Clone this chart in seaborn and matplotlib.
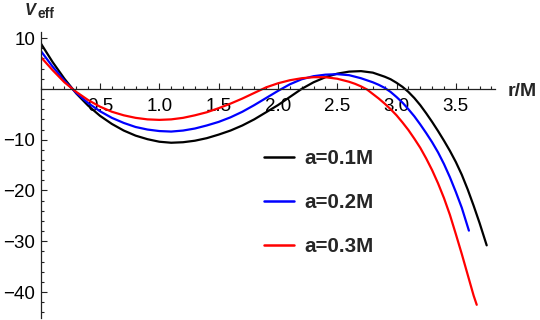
import matplotlib
matplotlib.use("Agg")
import matplotlib.pyplot as plt
import pandas as pd
import seaborn as sns
from matplotlib.ticker import FixedLocator, MultipleLocator, FixedFormatter

# ---- data ----
r_a01 = [0.0, 0.1, 0.2, 0.3, 0.4, 0.5, 0.6, 0.7, 0.8, 0.9, 1.0, 1.1, 1.2, 1.3, 1.4, 1.5,
         1.6, 1.7, 1.8, 1.9, 2.0, 2.1, 2.2, 2.3, 2.4, 2.5, 2.6, 2.7, 2.8, 2.9, 2.95, 3.0,
         3.05, 3.1, 3.15, 3.2, 3.25, 3.3, 3.35, 3.4, 3.45, 3.5, 3.55, 3.6, 3.65, 3.7, 3.76]
V_a01 = [9.0, 5.3, 2.0, -0.9, -3.3, -5.3, -6.9, -8.2, -9.2, -9.9, -10.4, -10.6, -10.5, -10.2,
         -9.7, -9.0, -8.2, -7.2, -6.0, -4.6, -3.2, -1.6, 0.0, 1.3, 2.3, 3.0, 3.4, 3.5, 3.2,
         2.4, 1.9, 1.2, 0.4, -0.6, -1.8, -3.2, -4.8, -6.5, -8.3, -10.2, -12.2, -14.4, -16.9,
         -19.8, -23.0, -26.4, -30.8]

r_a02 = [0.0, 0.1, 0.2, 0.3, 0.4, 0.5, 0.6, 0.7, 0.8, 0.9, 1.0, 1.1, 1.2, 1.3, 1.4, 1.5,
         1.6, 1.7, 1.8, 1.9, 2.0, 2.1, 2.2, 2.3, 2.4, 2.5, 2.6, 2.7, 2.8, 2.85, 2.9, 2.95,
         3.0, 3.05, 3.1, 3.15, 3.2, 3.25, 3.3, 3.35, 3.4, 3.45, 3.5, 3.55, 3.61]
V_a02 = [7.5, 4.4, 1.6, -0.8, -2.8, -4.4, -5.7, -6.7, -7.5, -8.0, -8.3, -8.4, -8.2, -7.8,
         -7.2, -6.5, -5.6, -4.5, -3.2, -1.8, -0.4, 0.9, 1.9, 2.5, 2.8, 2.9, 2.7, 2.1, 1.3,
         0.8, 0.2, -0.6, -1.6, -2.7, -4.0, -5.4, -7.0, -8.7, -10.5, -12.5, -14.8, -17.4,
         -20.3, -23.4, -27.9]

r_a03 = [0.0, 0.1, 0.2, 0.3, 0.4, 0.5, 0.6, 0.7, 0.8, 0.9, 1.0, 1.1, 1.2, 1.3, 1.4, 1.5,
         1.6, 1.7, 1.8, 1.9, 2.0, 2.1, 2.2, 2.3, 2.4, 2.5, 2.6, 2.65, 2.7, 2.75, 2.8, 2.85,
         2.9, 2.95, 3.0, 3.05, 3.1, 3.15, 3.2, 3.25, 3.3, 3.35, 3.4, 3.45, 3.5, 3.55, 3.6,
         3.65, 3.676]
V_a03 = [6.3, 3.7, 1.3, -0.6, -2.2, -3.5, -4.5, -5.2, -5.7, -6.0, -6.1, -6.0, -5.7, -5.2,
         -4.6, -3.8, -2.9, -1.9, -0.8, 0.3, 1.1, 1.7, 2.1, 2.3, 2.3, 2.0, 1.4, 1.0, 0.5,
         -0.1, -1.0, -1.9, -2.9, -4.0, -5.2, -6.6, -8.1, -9.8, -11.6, -13.7, -16.0, -18.6,
         -21.5, -24.8, -28.6, -32.5, -36.6, -40.7, -42.5]

series_labels = ["a=0.1M", "a=0.2M", "a=0.3M"]
series_colors = ["#000000", "#0000ff", "#ff0000"]

x_ticks = [0.5, 1.0, 1.5, 2.0, 2.5, 3.0, 3.5]
x_ticklabels = ["0.5", "1.0", "1.5", "2.0", "2.5", "3.0", "3.5"]
y_ticks = [-40, -30, -20, -10, 10]
y_ticklabels = ["\u221240", "\u221230", "\u221220", "\u221210", "10"]

# ---- build table ----
frames = []
for r, v, lab in zip([r_a01, r_a02, r_a03], [V_a01, V_a02, V_a03], series_labels):
    frames.append(pd.DataFrame({"r": r, "V": v, "series": lab}))
df = pd.concat(frames, ignore_index=True)

sns.set_style("white")
plt.rcParams["font.family"] = ["Liberation Sans", "DejaVu Sans"]

W, H = 540, 320
fig = plt.figure(figsize=(W / 100, H / 100), dpi=100)
ax_left, ax_right, ax_top, ax_bottom = 40.7, 495, 32, 318
ax = fig.add_axes([ax_left / W, 1 - ax_bottom / H, (ax_right - ax_left) / W, (ax_bottom - ax_top) / H])

sns.lineplot(data=df, x="r", y="V", hue="series", hue_order=series_labels,
             palette=dict(zip(series_labels, series_colors)), sort=False,
             estimator=None, linewidth=1.6, ax=ax, legend=True)

ax.set_xlim(0, 3.83)
ax.set_ylim(-45.1, 11.2)
ax.set_xlabel("")
ax.set_ylabel("")

for s in ["top", "right"]:
    ax.spines[s].set_visible(False)
ax.spines["bottom"].set_position(("data", 0))
for s in ["bottom", "left"]:
    ax.spines[s].set_color("#222222")
    ax.spines[s].set_linewidth(0.9)

ax.xaxis.set_major_locator(FixedLocator(x_ticks))
ax.xaxis.set_major_formatter(FixedFormatter(x_ticklabels))
ax.xaxis.set_minor_locator(MultipleLocator(0.1))
ax.yaxis.set_major_locator(FixedLocator(y_ticks))
ax.yaxis.set_major_formatter(FixedFormatter(y_ticklabels))
ax.yaxis.set_minor_locator(MultipleLocator(2))

ax.tick_params(which="both", direction="in", color="#222222", width=0.8,
               bottom=True, left=True, top=False, right=False)
ax.tick_params(which="major", length=4.3, labelsize=13.5, labelcolor="black")
ax.tick_params(which="minor", length=2.5)
ax.tick_params(axis="x", which="major", pad=6.5)
ax.tick_params(axis="y", which="major", pad=4)

leg = ax.legend(loc="upper left", bbox_to_anchor=(264 / W, 1 - 148.7 / H),
                bbox_transform=fig.transFigure, frameon=False, borderpad=0,
                borderaxespad=0, handlelength=1.46, handletextpad=0.49,
                labelspacing=1.22, prop={"weight": "bold", "size": 14.8})
for line in leg.get_lines():
    line.set_linewidth(1.8)

fig.text(25 / W, 1 - 15 / H, "V", fontsize=11.8, fontweight="bold", fontstyle="italic",
         va="baseline", ha="left")
fig.text(37.5 / W, 1 - 18.3 / H, "eff", fontsize=9.9, fontweight="bold",
         va="baseline", ha="left")
fig.text(508 / W, 1 - 91 / H, "r/M", fontsize=14, fontweight="bold", va="center", ha="left")

fig.savefig("out.png", dpi=100)
